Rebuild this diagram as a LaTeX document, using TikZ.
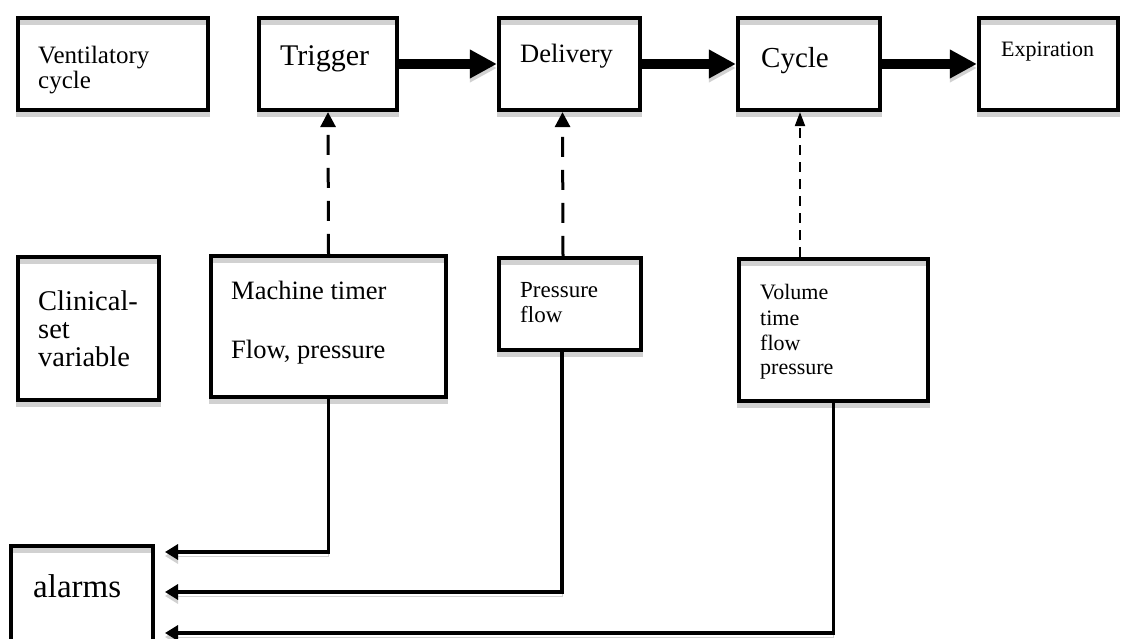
\documentclass[tikz,border=0pt]{standalone}
\usepackage{fontspec}
\setmainfont{Liberation Serif}
\usetikzlibrary{arrows.meta}
\definecolor{shade}{gray}{0.82}

\begin{document}
\begin{tikzpicture}[x=1pt, y=-1pt,
  box/.style={draw, line width=4.2pt, inner sep=0pt,
    preaction={draw=shade, transform canvas={yshift=-4.5pt}}},
  lbl/.style={anchor=base west, inner sep=0pt, font=\fontsize{#1}{#1}\selectfont},
  bigarrow/.style={line width=10pt, -{Triangle[length=27pt, width=27pt]},
    preaction={draw=shade, transform canvas={yshift=-4pt}}},
  dasharrow/.style={line width=3pt, dash pattern=on 20pt off 13pt,
    -{Triangle[length=15pt, width=15pt]}},
  finedash/.style={line width=2pt, dash pattern=on 10pt off 7pt,
    -{Triangle[length=14pt, width=10pt]}},
  elbow/.style={line width=3.5pt, line join=miter, -{Triangle[length=13pt, width=15pt]},
    preaction={draw=shade, transform canvas={yshift=-4pt}}}
]
\fill[white] (0,0) rectangle (1125,639);
\useasboundingbox (0,0) rectangle (1125,639);

% top row: phases of the breath
\node[box, minimum width=190pt, minimum height=92pt] (vent)  at (113,64)    {};
\node[box, minimum width=138pt, minimum height=92pt] (trig)  at (328,64)    {};
\node[box, minimum width=141pt, minimum height=92pt] (deliv) at (569.5,64)  {};
\node[box, minimum width=142pt, minimum height=92pt] (cyc)   at (809,64)    {};
\node[box, minimum width=139pt, minimum height=92pt] (expir) at (1048.5,64) {};

% middle row: variables set by the clinician
\node[box, minimum width=141pt, minimum height=143pt] (clin) at (88.5,328.5) {};
\node[box, minimum width=235pt, minimum height=141pt] (mach) at (328.5,326.5) {};
\node[box, minimum width=142pt, minimum height=92pt]  (pres) at (570,304)    {};
\node[box, minimum width=189pt, minimum height=142pt] (vol)  at (833.5,330)  {};

% alarm box, running off the lower edge
\node[box, minimum width=142pt, minimum height=112pt] (alarm) at (82,602) {};

% labels
\node[lbl=25]   (ventA) at (38,64) {Ventilatory};
\node[lbl=25]   (ventB) at (38,89) {cycle};
\node[lbl=30]   (trigT) at (280,66) {Trigger};
\node[lbl=26.5] (delT)  at (520,63) {Delivery};
\node[lbl=29]   (cycT)  at (761,68) {Cycle};
\node[lbl=22]   (expT)  at (1001,57) {Expiration};

\node[lbl=28.5] (clinA) at (38,310) {Clinical-};
\node[lbl=28.5] (clinB) at (38,338) {set};
\node[lbl=28.5] (clinC) at (38,366) {variable};

\node[lbl=26.5] (machA) at (231,300) {Machine timer};
\node[lbl=26.5] (machB) at (231,358) {Flow, pressure};

\node[lbl=23] (presA) at (520,298) {Pressure};
\node[lbl=23] (presB) at (520,323) {flow};

\node[lbl=22] (volA) at (760,300) {Volume};
\node[lbl=22] (volB) at (760,325) {time};
\node[lbl=22] (volC) at (760,350) {flow};
\node[lbl=22] (volD) at (760,374) {pressure};

\node[lbl=33] (alarmT) at (33,597) {alarms};

% sequence of the breath
\draw[bigarrow] (trig.east)  -- (deliv.west);
\draw[bigarrow] (deliv.east) -- (cyc.west);
\draw[bigarrow] (cyc.east)   -- (expir.west);

% set variables acting on each phase
\draw[dasharrow] (mach.north) -- (trig.south);
\draw[dasharrow] ([xshift=-7pt]pres.north) -- ([xshift=-7pt]deliv.south);
\draw[finedash]  ([xshift=-33.5pt]vol.north) -- ([xshift=-9pt]cyc.south);

% feeds to the alarms
\coordinate (in1) at (165,552);
\coordinate (in2) at (165,592);
\coordinate (in3) at (165,633);
\draw[elbow] (mach.south) |- (in1);
\draw[elbow] ([xshift=-8pt]pres.south) |- (in2);
\draw[elbow] (vol.south) |- (in3);
\end{tikzpicture}
\end{document}
